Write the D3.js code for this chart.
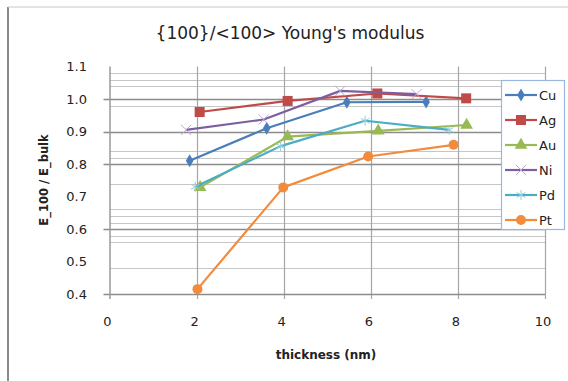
<!DOCTYPE html>
<html>
<head>
<meta charset="utf-8">
<script src="https://cdn.jsdelivr.net/npm/d3@7"></script>
<style>
  body { margin: 0; background: #fff; }
  text { font-family: "DejaVu Sans", "Noto Sans", sans-serif; fill: #222; }
</style>
</head>
<body>
<svg id="chart" width="568" height="381"></svg>
<script>
// series data, [thickness (nm), E_100 / E_bulk]
var cuData = [[1.84, 0.810], [3.61, 0.910], [5.45, 0.990], [7.27, 0.991]];
var agData = [[2.07, 0.960], [4.09, 0.994], [6.15, 1.017], [8.19, 1.002]];
var auData = [[2.08, 0.728], [4.09, 0.884], [6.17, 0.902], [8.20, 0.920]];
var niData = [[1.76, 0.905], [3.54, 0.937], [5.30, 1.025], [7.05, 1.015]];
var pdData = [[1.97, 0.730], [3.93, 0.855], [5.87, 0.933], [7.80, 0.905]];
var ptData = [[2.02, 0.415], [3.99, 0.728], [5.94, 0.823], [7.90, 0.859]];

var seriesNames = ["Cu", "Ag", "Au", "Ni", "Pd", "Pt"];
var xTicks = [0, 2, 4, 6, 8, 10];
var yTicks = [0.4, 0.5, 0.6, 0.7, 0.8, 0.9, 1.0, 1.1];
// major lines the chart actually shows, and the leftover minor lines
var yMajorLines = [0.4, 0.6, 0.8, 0.9, 1.0];
var yMinorLines = [1.08, 1.06, 1.04, 0.98, 0.84, 0.82, 0.74, 0.66, 0.64, 0.62, 0.58, 0.56, 0.48];

var allData = [cuData, agData, auData, niData, pdData, ptData];
var colors = ["#4a7ebb", "#be4b48", "#98b954", "#7d5fa0", "#4aacc5", "#f38b3c"];
var markerColors = ["#4a7ebb", "#be4b48", "#98b954", "#b9a8d4", "#8fd0e2", "#f38b3c"];
var shapes = ["diamond", "square", "triangle", "x", "star", "circle"];

var svg = d3.select("#chart");

// outer chart border (only the left and top are in frame)
svg.append("line").attr("x1", 8).attr("y1", 7).attr("x2", 8).attr("y2", 381)
  .attr("stroke", "#8a8a8a").attr("stroke-width", 2);
svg.append("line").attr("x1", 8).attr("y1", 7).attr("x2", 568).attr("y2", 7)
  .attr("stroke", "#c8c8c8").attr("stroke-width", 1);

// title
svg.append("text").attr("x", 290).attr("y", 39).attr("text-anchor", "middle")
  .style("font-size", "17px").text("{100}/<100> Young's modulus");

var x = d3.scaleLinear().domain([0, 10]).range([109.5, 545]);
var y = d3.scaleLinear().domain([0.4, 1.1]).range([294, 66.5]);

var plot = svg.append("g");

// minor horizontal grid lines
plot.selectAll(".minor").data(yMinorLines).enter().append("line")
  .attr("x1", x(0)).attr("x2", x(10))
  .attr("y1", function(d) { return Math.round(y(d)) + 0.5; })
  .attr("y2", function(d) { return Math.round(y(d)) + 0.5; })
  .attr("stroke", "#c6c6c6").attr("stroke-width", 1.2);

// vertical grid lines, with tick marks below the axis
plot.selectAll(".vgrid").data(xTicks.slice(1)).enter().append("line")
  .attr("x1", function(d) { return Math.round(x(d)) + 0.5; })
  .attr("x2", function(d) { return Math.round(x(d)) + 0.5; })
  .attr("y1", y(1.1)).attr("y2", y(0.4) + 5)
  .attr("stroke", "#a6a6a6").attr("stroke-width", 1.2);

// major horizontal grid lines, with tick marks left of the axis
plot.selectAll(".major").data(yMajorLines).enter().append("line")
  .attr("x1", x(0) - 6).attr("x2", x(10))
  .attr("y1", function(d) { return Math.round(y(d)) + 0.5; })
  .attr("y2", function(d) { return Math.round(y(d)) + 0.5; })
  .attr("stroke", "#8c8c8c").attr("stroke-width", 1.3);

// y axis line
plot.append("line").attr("x1", x(0) + 0.5).attr("x2", x(0) + 0.5)
  .attr("y1", y(1.1)).attr("y2", y(0.4) + 5)
  .attr("stroke", "#9a9a9a").attr("stroke-width", 1.5);

// tick labels
plot.selectAll(".ylab").data(yTicks).enter().append("text")
  .attr("x", 87).attr("y", function(d) { return y(d) + 4.5; })
  .attr("text-anchor", "end").style("font-size", "13px")
  .text(function(d) { return d3.format(".1f")(d); });

plot.selectAll(".xlab").data(xTicks).enter().append("text")
  .attr("x", function(d) { return x(d) - 2; }).attr("y", 326)
  .attr("text-anchor", "middle").style("font-size", "13px")
  .text(function(d) { return d; });

// axis titles
svg.append("text").attr("x", 326).attr("y", 359).attr("text-anchor", "middle")
  .style("font-size", "12px").style("font-weight", "bold").text("thickness (nm)");
svg.append("text").attr("transform", "translate(48,180) rotate(-90)")
  .attr("text-anchor", "middle").style("font-size", "11.5px").style("font-weight", "bold")
  .text("E_100 / E_bulk");

// draws one marker of the given shape centred on (cx, cy)
function drawMarker(g, shape, cx, cy, color) {
  if (shape == "diamond") {
    g.append("path").attr("d", d3.symbol(d3.symbolDiamond, 50)())
      .attr("transform", "translate(" + cx + "," + cy + ")").attr("fill", color);
  } else if (shape == "square") {
    g.append("rect").attr("x", cx - 5).attr("y", cy - 5).attr("width", 10).attr("height", 10)
      .attr("fill", color);
  } else if (shape == "triangle") {
    g.append("path").attr("d", d3.symbol(d3.symbolTriangle, 70)())
      .attr("transform", "translate(" + cx + "," + cy + ")").attr("fill", color);
  } else if (shape == "x") {
    g.append("path").attr("d", d3.symbol(d3.symbolTimes, 70)())
      .attr("transform", "translate(" + cx + "," + cy + ")")
      .attr("fill", "none").attr("stroke", color).attr("stroke-width", 1);
  } else if (shape == "star") {
    g.append("path").attr("d", d3.symbol(d3.symbolAsterisk, 70)())
      .attr("transform", "translate(" + cx + "," + cy + ")")
      .attr("fill", "none").attr("stroke", color).attr("stroke-width", 1);
  } else {
    g.append("circle").attr("cx", cx).attr("cy", cy).attr("r", 5).attr("fill", color);
  }
}

var line = d3.line()
  .x(function(d) { return x(d[0]); })
  .y(function(d) { return y(d[1]); });

// series lines + markers
allData.forEach(function(data, i) {
  var g = plot.append("g");
  g.append("path").datum(data).attr("d", line)
    .attr("fill", "none").attr("stroke", colors[i]).attr("stroke-width", 2.2)
    .attr("stroke-linejoin", "round");
  data.forEach(function(d) {
    drawMarker(g, shapes[i], x(d[0]), y(d[1]), markerColors[i]);
  });
});

// legend
var legend = svg.append("g");
legend.append("rect").attr("x", 501.5).attr("y", 80.5).attr("width", 63).attr("height", 149)
  .attr("fill", "#fff").attr("stroke", "#9ab8dc").attr("stroke-width", 1.2);

seriesNames.forEach(function(name, i) {
  var ly = 95 + i * 25;
  legend.append("line").attr("x1", 505).attr("x2", 537).attr("y1", ly).attr("y2", ly)
    .attr("stroke", colors[i]).attr("stroke-width", 2.2);
  drawMarker(legend, shapes[i], 521, ly, markerColors[i]);
  legend.append("text").attr("x", 539).attr("y", ly + 5)
    .style("font-size", "13px").text(name);
});
</script>
</body>
</html>
